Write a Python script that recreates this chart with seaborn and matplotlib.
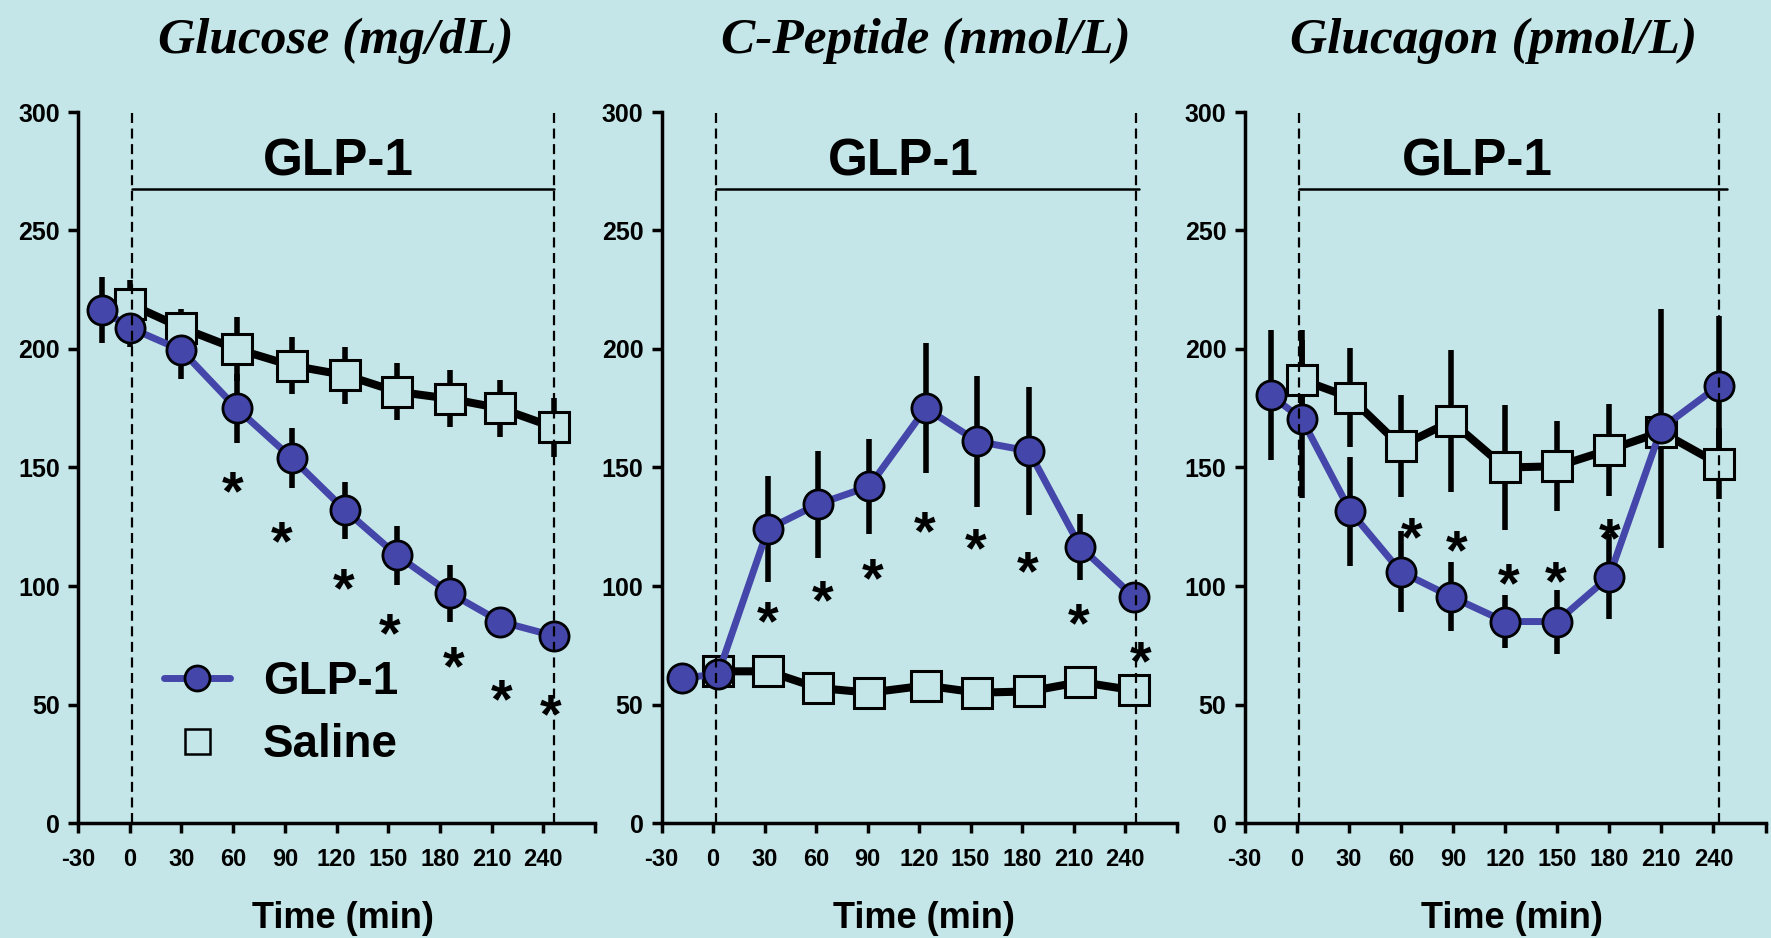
import matplotlib.pyplot as plt
import seaborn as sns
from matplotlib.lines import Line2D

sns.set_theme(style="ticks")
plt.rcParams["font.family"] = ["Liberation Sans", "DejaVu Sans"]
plt.rcParams["font.weight"] = "bold"
plt.rcParams["text.color"] = "black"
plt.rcParams["axes.labelcolor"] = "black"
plt.rcParams["xtick.color"] = "black"
plt.rcParams["ytick.color"] = "black"

BG = "#c4e6e8"
BLUE = "#4446a9"

# time points as they sit in the original figure (min)
glu_time = [-16, 0, 30, 62, 94, 125, 155, 186, 215, 246]
cpep_time = [-18, 3, 32, 61, 91, 124, 154, 184, 214, 245]
gcg_time = [-15, 3, 31, 60, 89, 120, 150, 180, 210, 243]

# glucose (mg/dL)
glu_glp = [216.5, 209, 199.5, 175, 154, 132, 113, 97, 85, 79]
glu_glp_err = [14, 8, 12, 14.5, 12.5, 12, 12.5, 12, 4, 5]
glu_sal = [219, 209, 200, 193, 189, 182, 179, 175, 167]
glu_sal_err = [10, 8, 13.5, 12, 12, 12, 12, 12, 12.5]

# C-peptide (nmol/L)
cpep_glp = [61, 63, 124, 134.5, 142, 175, 161, 157, 116.5, 95.5]
cpep_glp_err = [3, 3, 22.5, 22.5, 20, 27.5, 27.5, 27, 14, 4]
cpep_sal = [64, 64, 57, 55, 58, 55, 55.5, 59.5, 56]
cpep_sal_err = [3, 3, 3, 3, 3, 3, 3, 3, 3]

# glucagon (pmol/L)
gcg_glp = [180.5, 170.5, 131.5, 106, 95.5, 85, 85, 104, 166.5, 184.5]
gcg_glp_err = [27.5, 33.5, 23, 17, 14.5, 11, 13.5, 18, 50.5, 29.5]
gcg_sal = [187, 179.5, 159, 169.5, 150, 150.5, 157.5, 165, 151.5]
gcg_sal_err = [21, 21, 21.5, 30, 26.5, 19, 19.5, 5, 15]

# significance marks
glu_star_x = [60, 88, 124, 151, 188, 216, 244]
glu_star_y = [146, 125, 105, 86, 72, 58, 52]
cpep_star_x = [32, 64, 93, 123, 153, 183, 213, 249]
cpep_star_y = [91, 100, 109, 129, 122, 112, 90, 74]
gcg_star_x = [66, 92, 122, 149, 180]
gcg_star_y = [126.5, 121, 107, 108, 126]

titles = ["Glucose (mg/dL)", "C-Peptide (nmol/L)", "Glucagon (pmol/L)"]
infusion_start = [1.3, 1.5, 1.6]
infusion_end = [246, 246.5, 243.5]
bar_end = [246, 248, 248]
glp_label_x = [121, 111, 104]
title_x = [0.499, 0.514, 0.478]
xlabel_x = [0.513, 0.51, 0.514]
xticks = [-30, 0, 30, 60, 90, 120, 150, 180, 210, 240, 270]
xticklabels = ["-30", "0", "30", "60", "90", "120", "150", "180", "210", "240", ""]

panels = [
    (glu_time, glu_glp, glu_glp_err, glu_sal, glu_sal_err, glu_star_x, glu_star_y),
    (cpep_time, cpep_glp, cpep_glp_err, cpep_sal, cpep_sal_err, cpep_star_x, cpep_star_y),
    (gcg_time, gcg_glp, gcg_glp_err, gcg_sal, gcg_sal_err, gcg_star_x, gcg_star_y),
]
lefts = [78 / 1771, 661.5 / 1771, 1244.5 / 1771]
widths = [517 / 1771, 515 / 1771, 521 / 1771]

fig = plt.figure(figsize=(17.71, 9.38), dpi=100, facecolor=BG)

for i, (t, glp, glp_err, sal, sal_err, sx, sy) in enumerate(panels):
    ax = fig.add_axes([lefts[i], 115 / 938, widths[i], 711 / 938])
    ax.set_facecolor(BG)

    ax.errorbar(t[1:], sal, yerr=sal_err, fmt="none", ecolor="black",
                elinewidth=4, capsize=0, zorder=2)
    ax.errorbar(t, glp, yerr=glp_err, fmt="none", ecolor="black",
                elinewidth=4, capsize=0, zorder=2)
    sns.lineplot(x=t[1:], y=sal, ax=ax, color="black", linewidth=5.8,
                 marker="s", markersize=21, markerfacecolor=BG,
                 markeredgecolor="black", markeredgewidth=2.2, zorder=3)
    sns.lineplot(x=t, y=glp, ax=ax, color=BLUE, linewidth=5,
                 marker="o", markersize=21, markerfacecolor=BLUE,
                 markeredgecolor="black", markeredgewidth=2, zorder=4)

    for x, y in zip(sx, sy):
        ax.annotate("*", (x, y), xytext=(0, -13), textcoords="offset points",
                    ha="center", va="center", fontsize=40, fontweight="bold",
                    zorder=5)

    ax.axvline(infusion_start[i], color="black", lw=1.6,
               ls=(0, (4.5, 2.5)), zorder=6)
    ax.axvline(infusion_end[i], color="black", lw=1.6,
               ls=(0, (4.5, 2.5)), zorder=6)
    ax.plot([infusion_start[i], bar_end[i]], [267.5, 267.5], color="black",
            lw=1.8, zorder=6)
    ax.text(glp_label_x[i], 273, "GLP-1", ha="center", va="baseline",
            fontsize=37, fontweight="bold")

    ax.set_xlim(-30, 270)
    ax.set_ylim(0, 300)
    ax.set_xticks(xticks)
    ax.set_xticklabels(xticklabels)
    ax.set_yticks([0, 50, 100, 150, 200, 250, 300])
    ax.tick_params(axis="both", direction="out", length=7, width=2.5,
                   color="black")
    ax.tick_params(axis="x", labelsize=17, pad=11)
    ax.tick_params(axis="y", labelsize=18, pad=6)
    for lab in ax.get_xticklabels() + ax.get_yticklabels():
        lab.set_fontweight("bold")
    sns.despine(ax=ax)
    for side in ["left", "bottom"]:
        ax.spines[side].set_linewidth(2.5)
        ax.spines[side].set_color("black")

    ax.set_xlabel("Time (min)", fontsize=26, fontweight="bold", va="center")
    ax.xaxis.set_label_coords(xlabel_x[i], -0.135)
    ax.set_title(titles[i], x=title_x[i], y=1.088, va="center",
                 fontsize=37, fontweight="bold", fontstyle="italic",
                 family=["Liberation Serif", "DejaVu Serif"])

    if i == 0:
        handles = [
            Line2D([], [], color=BLUE, lw=5, marker="o", markersize=18,
                   markerfacecolor=BLUE, markeredgecolor="black",
                   markeredgewidth=2),
            Line2D([], [], lw=0, marker="s", markersize=18,
                   markerfacecolor=BG, markeredgecolor="black",
                   markeredgewidth=1.8),
        ]
        leg = ax.legend(handles, ["GLP-1", "Saline"], loc="upper left",
                        bbox_to_anchor=(0.13, 0.255), borderaxespad=0,
                        frameon=False, handlelength=1.45, handletextpad=0.72,
                        labelspacing=0.42, prop={"size": 33, "weight": "bold"})

plt.savefig("out.png", dpi=100, facecolor=BG)
plt.close()
